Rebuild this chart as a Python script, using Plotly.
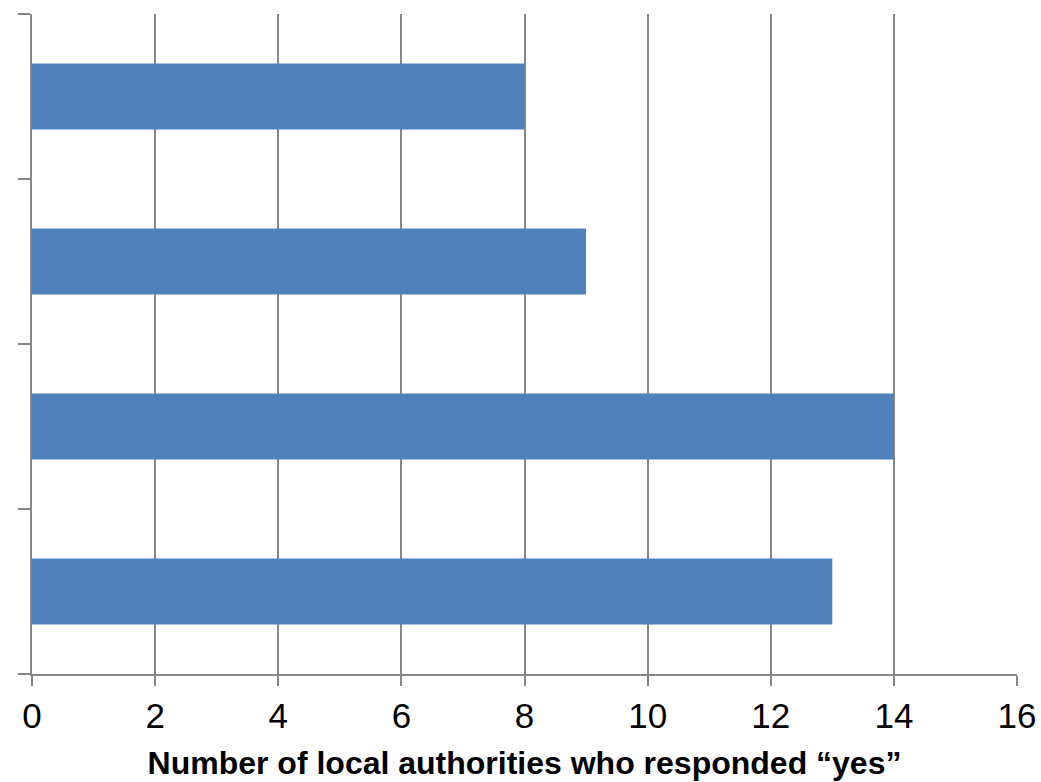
import plotly.graph_objects as go

# Responses per question (bottom to top)
positions = [0, 1, 2, 3]
yes_counts = [13, 14, 9, 8]
x_ticks = [0, 2, 4, 6, 8, 10, 12, 14, 16]
x_title = "Number of local authorities who responded \u201cyes\u201d"

GRID = "#878787"

fig = go.Figure(
    go.Bar(
        x=yes_counts,
        y=positions,
        orientation="h",
        width=0.4,
        marker=dict(color="#4F81BD", line=dict(width=0)),
    )
)

fig.update_layout(
    width=1041,
    height=782,
    margin=dict(l=32, r=24, t=14, b=108, autoexpand=False),
    paper_bgcolor="white",
    plot_bgcolor="white",
    showlegend=False,
    font=dict(family="Liberation Sans, Arial, sans-serif", color="black"),
)

fig.update_xaxes(
    range=[0, 16],
    tickvals=x_ticks,
    ticktext=[str(v) for v in x_ticks],
    tickfont=dict(size=35),
    ticks="outside",
    ticklen=10,
    tickwidth=1.5,
    tickcolor=GRID,
    showgrid=True,
    gridcolor=GRID,
    gridwidth=1.5,
    zeroline=False,
    showline=True,
    linecolor=GRID,
    linewidth=1.5,
    automargin=False,
    title=dict(text="<b>" + x_title + "</b>", font=dict(size=32), standoff=18),
)

fig.update_yaxes(
    range=[-0.5, 3.5],
    tickvals=[-0.5, 0.5, 1.5, 2.5, 3.5],
    ticktext=["", "", "", "", ""],
    ticks="outside",
    ticklen=12,
    tickwidth=1.5,
    tickcolor=GRID,
    showgrid=False,
    zeroline=False,
    showline=True,
    linecolor=GRID,
    linewidth=1.5,
    automargin=False,
)

fig.write_html("out.html")
